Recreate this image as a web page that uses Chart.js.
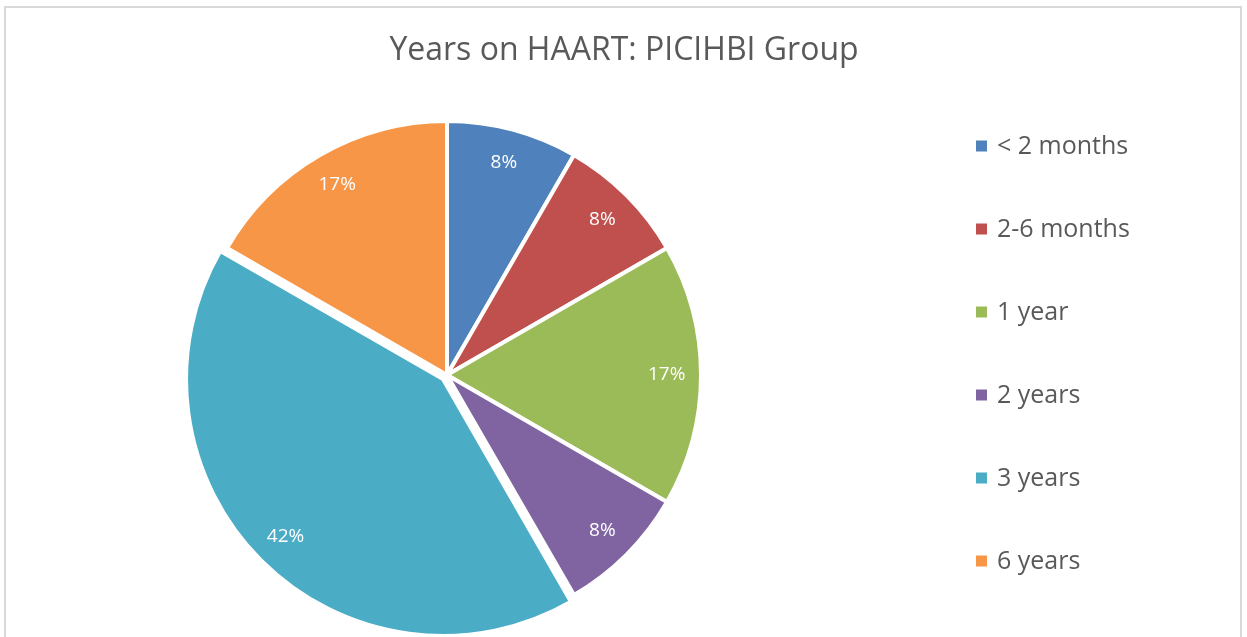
<!DOCTYPE html>
<html>
<head>
<meta charset="utf-8">
<script src="https://cdn.jsdelivr.net/npm/chart.js@4/dist/chart.umd.min.js"></script>
<style>
  html, body { margin: 0; padding: 0; background: #fff; overflow: hidden; }
  #wrap { position: relative; width: 1247px; height: 637px; }
  #frame { position: absolute; left: 4px; top: 6px; width: 1238px; height: 640px; border: 2px solid #d9d9d9; box-sizing: border-box; pointer-events: none; }
</style>
</head>
<body>
<div id="wrap">
  <canvas id="pieChart" width="1247" height="637"></canvas>
  <div id="frame"></div>
</div>
<script>
// Données du graphique
const categories = ['< 2 months', '2-6 months', '1 year', '2 years', '3 years', '6 years'];
const counts = [1, 1, 2, 1, 5, 2];
const sliceColors = ['#4F81BD', '#C0504D', '#9BBB59', '#8064A2', '#4BACC6', '#F79646'];
const sliceOffsets = [0, 0, 0, 0, 23, 0];
const chartTitle = 'Years on HAART: PICIHBI Group';

const FONT = '"Open Sans", "Liberation Sans", sans-serif';
const TEXT_COLOR = '#595959';

// Titre, légende et étiquettes dessinés à la main
const decorPlugin = {
    id: 'decor',
    afterDraw(chart) {
        const ctx = chart.ctx;
        ctx.save();

        // Titre
        ctx.fillStyle = TEXT_COLOR;
        ctx.font = '32px ' + FONT;
        ctx.textAlign = 'center';
        ctx.textBaseline = 'middle';
        ctx.fillText(chartTitle, 624, 51);

        // Étiquettes de pourcentage
        const total = counts.reduce((a, b) => a + b, 0);
        const meta = chart.getDatasetMeta(0);
        ctx.font = '19px ' + FONT;
        ctx.fillStyle = '#ffffff';
        meta.data.forEach((arc, i) => {
            const p = arc.getProps(['x', 'y', 'startAngle', 'endAngle', 'outerRadius', 'circumference']);
            const mid = (p.startAngle + p.endAngle) / 2;
            const off = sliceOffsets[i] / 4;
            const fix = 1 - Math.sin(Math.min(Math.PI, p.circumference || 0));
            const shift = off * (1 + fix);
            const r = p.outerRadius * 0.865 + shift;
            const x = p.x + Math.cos(mid) * r;
            const y = p.y + Math.sin(mid) * r;
            ctx.fillText(Math.round(counts[i] / total * 100) + '%', x, y);
        });

        // Légende
        ctx.textAlign = 'left';
        ctx.font = '25px ' + FONT;
        categories.forEach((label, i) => {
            const cy = 146 + i * 83;
            ctx.fillStyle = sliceColors[i];
            ctx.fillRect(976, cy - 5.5, 11, 11);
            ctx.fillStyle = TEXT_COLOR;
            ctx.fillText(label, 997, cy + 1);
        });
        ctx.restore();
    }
};

new Chart(document.getElementById('pieChart').getContext('2d'), {
    type: 'pie',
    data: {
        labels: categories,
        datasets: [{
            data: counts,
            backgroundColor: sliceColors,
            borderColor: '#ffffff',
            borderWidth: 4,
            offset: sliceOffsets,
            radius: 254,
        }],
    },
    options: {
        responsive: false,
        animation: false,
        layout: {
            padding: { left: 0, right: 1247 - 894, top: 113, bottom: 0 },
        },
        plugins: {
            legend: { display: false },
            title: { display: false },
            tooltip: { enabled: false },
        },
    },
    plugins: [decorPlugin],
});
</script>
</body>
</html>
